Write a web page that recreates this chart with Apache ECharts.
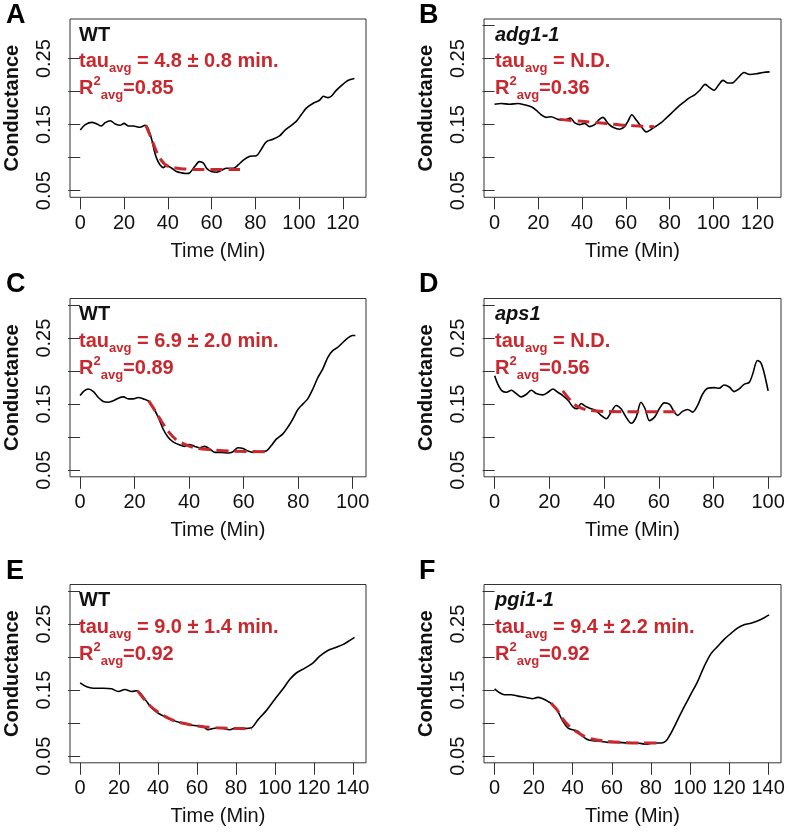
<!DOCTYPE html>
<html>
<head>
<meta charset="utf-8">
<script src="https://cdn.jsdelivr.net/npm/echarts@6/dist/echarts.min.js"></script>
<style>
  html, body { margin: 0; padding: 0; background: #fff; }
  #main { width: 789px; height: 837px; }
</style>
</head>
<body>
<div id="main"></div>
<script>
// panel A - WT
const aTime = [0, 2.3, 5.3, 7.6, 9.6, 11.4, 13.7, 16, 18.2, 20, 22, 24.3, 27.3, 29.6, 31, 32.7, 33.7, 34.9, 36.5, 38, 39.5, 41.8, 44, 46.3, 48.6, 50, 52.4, 54.4, 56.2, 58, 60, 62.3, 64.6, 66.8, 69.9, 72.2, 74.4, 77.5, 80.5, 82.8, 85, 88.1, 91.1, 93.4, 95.7, 98.7, 101, 103.3, 106.3, 109.4, 111.2, 113.2, 114.7, 117, 120, 122.3, 125.3];
const aCond = [0.142, 0.150, 0.1535, 0.151, 0.148, 0.153, 0.156, 0.151, 0.149, 0.152, 0.148, 0.148, 0.146, 0.149, 0.144, 0.127, 0.112, 0.099, 0.089, 0.085, 0.088, 0.084, 0.079, 0.077, 0.076, 0.077, 0.087, 0.094, 0.092, 0.083, 0.079, 0.078, 0.081, 0.084, 0.084, 0.089, 0.096, 0.102, 0.103, 0.113, 0.124, 0.128, 0.133, 0.141, 0.147, 0.155, 0.165, 0.175, 0.182, 0.187, 0.193, 0.191, 0.193, 0.202, 0.211, 0.217, 0.220];
const aFitTime = [30, 32.7, 35, 37.3, 39.5, 42.5, 47, 55, 73];
const aFitCond = [0.149, 0.127, 0.108, 0.095, 0.088, 0.085, 0.083, 0.082, 0.082];

// panel B - adg1-1
const bTime = [0, 3, 6.9, 10.7, 13.7, 16.8, 19, 21.3, 23.6, 25.9, 28.9, 32, 34.7, 36.5, 38.8, 41.1, 43.4, 45.7, 47.5, 49.5, 51.8, 54.1, 57.1, 59.4, 60.9, 62.7, 64.7, 67, 69.3, 71.6, 73.9, 76.1, 78.4, 80.7, 83.8, 86.8, 89.1, 91.4, 93.7, 96.2, 98.2, 100.2, 102.3, 104.3, 106.6, 108.4, 111.2, 113.9, 116.5, 119.5, 122.6, 125.6];
const bCond = [0.181, 0.182, 0.181, 0.182, 0.180, 0.177, 0.172, 0.165, 0.161, 0.162, 0.158, 0.157, 0.160, 0.153, 0.150, 0.152, 0.147, 0.150, 0.157, 0.161, 0.152, 0.146, 0.143, 0.147, 0.155, 0.165, 0.157, 0.147, 0.139, 0.143, 0.148, 0.153, 0.160, 0.167, 0.177, 0.185, 0.191, 0.195, 0.202, 0.211, 0.206, 0.202, 0.210, 0.217, 0.213, 0.213, 0.221, 0.229, 0.226, 0.227, 0.229, 0.230];
const bFitTime = [29.7, 40, 50, 60, 73];
const bFitCond = [0.158, 0.155, 0.152, 0.149, 0.147];

// panel C - WT
const cTime = [0, 1.5, 3, 4.9, 6.7, 8.5, 10.4, 12.2, 14, 15.9, 17.7, 19.5, 21.3, 23.2, 25, 26.8, 28.7, 30.5, 32.3, 34.1, 36.6, 38.4, 40, 42.1, 43.9, 45.7, 47.6, 49.4, 51.8, 54.3, 56.1, 57.9, 59.8, 61.6, 63.4, 65.9, 68.3, 70.1, 72, 74.4, 76.2, 78, 79.9, 81.7, 83.5, 85.4, 87.2, 89, 90.9, 92.7, 94.5, 96.3, 98.2, 100, 101];
const cCond = [0.163, 0.170, 0.173, 0.169, 0.160, 0.154, 0.153, 0.155, 0.159, 0.161, 0.158, 0.158, 0.160, 0.158, 0.155, 0.145, 0.130, 0.112, 0.100, 0.093, 0.088, 0.086, 0.089, 0.086, 0.084, 0.086, 0.082, 0.077, 0.077, 0.076, 0.078, 0.084, 0.083, 0.079, 0.077, 0.078, 0.079, 0.087, 0.097, 0.105, 0.115, 0.127, 0.142, 0.150, 0.158, 0.173, 0.190, 0.203, 0.221, 0.231, 0.236, 0.243, 0.250, 0.254, 0.254];
const cFitTime = [25.2, 27.5, 30, 32.5, 35, 38, 42, 48, 55, 69];
const cFitCond = [0.155, 0.140, 0.123, 0.108, 0.097, 0.090, 0.084, 0.081, 0.079, 0.078];

// panel D - aps1
const dTime = [0, 1.2, 2.7, 4.3, 6.1, 7.9, 9.7, 11.6, 13.4, 15.2, 17.6, 19.5, 21.3, 23.1, 24.9, 26.8, 28.6, 30.2, 31.6, 33.5, 35.3, 37.1, 38.9, 40.8, 42.6, 44.4, 46.2, 48.1, 49.9, 51.7, 53.5, 55, 56.6, 58.4, 60.2, 62, 63.9, 65.7, 66.9, 68.7, 70.6, 72.4, 74.2, 76, 77.9, 80.3, 82.1, 83.9, 85.8, 87.6, 89.4, 91.2, 93.1, 94.3, 96.1, 97.3, 98.5, 100];
const dCond = [0.193, 0.180, 0.170, 0.168, 0.171, 0.166, 0.161, 0.165, 0.171, 0.166, 0.164, 0.168, 0.173, 0.168, 0.163, 0.156, 0.146, 0.143, 0.151, 0.146, 0.143, 0.140, 0.133, 0.128, 0.138, 0.148, 0.143, 0.130, 0.121, 0.130, 0.153, 0.143, 0.125, 0.130, 0.143, 0.152, 0.150, 0.138, 0.133, 0.139, 0.142, 0.138, 0.148, 0.165, 0.174, 0.175, 0.174, 0.179, 0.176, 0.169, 0.173, 0.180, 0.183, 0.195, 0.216, 0.213, 0.198, 0.170];
const dFitTime = [24.9, 27, 29, 31, 34, 40, 50, 68];
const dFitCond = [0.170, 0.159, 0.150, 0.145, 0.141, 0.139, 0.1385, 0.1385];

// panel E - WT
const eTime = [0, 3.4, 6.8, 12, 16.2, 19.6, 23, 26.5, 29, 31.6, 34.1, 36.7, 40.1, 43.5, 47, 51.2, 55.5, 59.8, 63.2, 65.7, 68.3, 71.7, 76.8, 80.2, 84.5, 87.9, 91.3, 95.6, 99.9, 104.2, 107.6, 111, 115.2, 119.5, 122.9, 127.2, 131.5, 134.9, 138.3, 140.9];
const eCond = [0.161, 0.155, 0.153, 0.153, 0.152, 0.148, 0.151, 0.148, 0.149, 0.143, 0.133, 0.123, 0.115, 0.110, 0.105, 0.101, 0.098, 0.096, 0.095, 0.090, 0.092, 0.093, 0.090, 0.093, 0.092, 0.093, 0.105, 0.119, 0.136, 0.152, 0.166, 0.176, 0.183, 0.191, 0.201, 0.210, 0.215, 0.219, 0.225, 0.230];
const eFitTime = [29.5, 33, 36, 40, 45, 50, 56, 62, 70, 80, 88.3];
const eFitCond = [0.149, 0.136, 0.126, 0.117, 0.108, 0.102, 0.098, 0.095, 0.093, 0.092, 0.0915];

// panel F - pgi1-1
const fTime = [0, 2.6, 5.1, 8.5, 11.9, 16.2, 19.6, 22.1, 24.7, 27.3, 29.8, 32.4, 34.9, 37.5, 40, 42.6, 45.1, 48.5, 52.8, 57.9, 63, 68.1, 73.2, 77.5, 80.9, 85.2, 87.7, 90.3, 93.7, 97.1, 100.5, 103.9, 107.3, 110.7, 114.1, 117.5, 121, 124.3, 127.7, 132, 136.3, 140.5];
const fCond = [0.152, 0.146, 0.143, 0.143, 0.141, 0.139, 0.137, 0.139, 0.137, 0.133, 0.128, 0.118, 0.103, 0.093, 0.090, 0.088, 0.080, 0.074, 0.073, 0.071, 0.071, 0.070, 0.070, 0.068, 0.070, 0.070, 0.073, 0.085, 0.105, 0.125, 0.144, 0.163, 0.186, 0.205, 0.216, 0.227, 0.236, 0.244, 0.249, 0.252, 0.257, 0.264];
const fFitTime = [29, 32, 35, 38, 42, 46, 50, 56, 64, 75, 86];
const fFitCond = [0.130, 0.120, 0.106, 0.096, 0.087, 0.080, 0.076, 0.073, 0.071, 0.070, 0.070];

const letters = ['A', 'B', 'C', 'D', 'E', 'F'];
const genotypes = ['WT', 'adg1-1', 'WT', 'aps1', 'WT', 'pgi1-1'];
const tauText = ['4.8 ± 0.8 min.', 'N.D.', '6.9 ± 2.0 min.', 'N.D.', '9.0 ± 1.4 min.', '9.4 ± 2.2 min.'];
const r2Text = ['0.85', '0.36', '0.89', '0.56', '0.92', '0.92'];
const xTicks = [
  [0, 20, 40, 60, 80, 100, 120],
  [0, 20, 40, 60, 80, 100, 120],
  [0, 20, 40, 60, 80, 100],
  [0, 20, 40, 60, 80, 100],
  [0, 20, 40, 60, 80, 100, 120, 140],
  [0, 20, 40, 60, 80, 100, 120, 140]
];
const yTicks = [0.05, 0.10, 0.15, 0.20, 0.25, 0.30];
const yTicksA = [0.05, 0.10, 0.15, 0.20, 0.25];
const yLabels = [0.05, 0.15, 0.25];

const FONT = 'Liberation Sans, Arial, Helvetica, sans-serif';
const RED = '#c8282e';
const zip = (xs, ys) => xs.map((x, i) => [x, ys[i]]);

const panels = [
  { t: aTime, c: aCond, ft: aFitTime, fc: aFitCond, left: 70, top: 19, xr: [-4.7, 130.6] },
  { t: bTime, c: bCond, ft: bFitTime, fc: bFitCond, left: 484, top: 19, xr: [-4.8, 130.8] },
  { t: cTime, c: cCond, ft: cFitTime, fc: cFitCond, left: 70, top: 298.5, xr: [-3.7, 104.9] },
  { t: dTime, c: dCond, ft: dFitTime, fc: dFitCond, left: 484, top: 298.5, xr: [-3.9, 104.7] },
  { t: eTime, c: eCond, ft: eFitTime, fc: eFitCond, left: 70, top: 584.5, xr: [-5.2, 146.8] },
  { t: fTime, c: fCond, ft: fFitTime, fc: fFitCond, left: 484, top: 584.5, xr: [-5.4, 146.6] }
];

const grid = [], xAxis = [], yAxis = [], series = [], title = [];
// subscripts / superscript via rich text tokens
const rich = {
  k: { fontSize: 20, fontWeight: 'bold', color: '#111', lineHeight: 26, fontFamily: FONT },
  ki: { fontSize: 20, fontWeight: 'bold', fontStyle: 'italic', color: '#111', lineHeight: 26, fontFamily: FONT },
  r: { fontSize: 20, fontWeight: 'bold', color: RED, lineHeight: 27, verticalAlign: 'middle', fontFamily: FONT },
  s: { fontSize: 13, fontWeight: 'bold', color: RED, lineHeight: 9, verticalAlign: 'bottom', fontFamily: FONT },
  p: { fontSize: 13, fontWeight: 'bold', color: RED, lineHeight: 19, verticalAlign: 'top', fontFamily: FONT }
};

panels.forEach((p, i) => {
  const w = p.left === 70 ? 296 : 297;
  grid.push({ left: p.left, top: p.top, width: w, height: 178.3, show: true, borderColor: '#333', borderWidth: 1, backgroundColor: 'transparent' });
  xAxis.push({
    type: 'value', gridIndex: i, min: p.xr[0], max: p.xr[1],
    name: 'Time (Min)', nameLocation: 'middle', nameGap: 44,
    nameTextStyle: { fontSize: 20, color: '#111', fontFamily: FONT },
    axisLine: { show: false },
    axisTick: { show: true, length: 12, customValues: xTicks[i], lineStyle: { color: '#333' } },
    axisLabel: { customValues: xTicks[i], fontSize: 20, color: '#111', margin: 16, fontFamily: FONT },
    splitLine: { show: false }
  });
  yAxis.push({
    type: 'value', gridIndex: i, min: 0.04, max: 0.31,
    name: 'Conductance', nameLocation: 'middle', nameGap: 48,
    nameTextStyle: { fontSize: 20, fontWeight: 'bold', color: '#111', fontFamily: FONT },
    axisLine: { show: false },
    axisTick: { show: true, length: 12, customValues: i === 0 ? yTicksA : yTicks, lineStyle: { color: '#333' } },
    axisLabel: { customValues: yLabels, rotate: 90, fontSize: 20, color: '#111', margin: 16, fontFamily: FONT, formatter: v => v.toFixed(2) },
    splitLine: { show: false }
  });
  series.push({
    type: 'line', xAxisIndex: i, yAxisIndex: i, data: zip(p.t, p.c), smooth: 0.3,
    showSymbol: false, lineStyle: { color: '#000', width: 1.6 }, silent: true
  });
  series.push({
    type: 'line', xAxisIndex: i, yAxisIndex: i, data: zip(p.ft, p.fc), smooth: 0.3,
    showSymbol: false, lineStyle: { color: RED, width: 3, type: [12, 6] }, silent: true, z: 3
  });
  const gTok = genotypes[i] === 'WT' ? 'k' : 'ki';
  title.push({
    left: (p.left === 70 ? 79 : 495), top: p.top + 3, padding: 0,
    text: '{' + gTok + '|' + genotypes[i] + '}\n{r|tau}{s|avg}{r| = ' + tauText[i] + '}\n{r|R}{p|2}{s|avg}{r|=' + r2Text[i] + '}',
    textStyle: { rich: rich }
  });
  const ly = i < 2 ? 2 : (i < 4 ? 271 : 558);
  title.push({
    left: p.left === 70 ? 6 : 419, top: ly, padding: 0, text: letters[i],
    textStyle: { fontSize: 27, fontWeight: 'bold', color: '#000', fontFamily: FONT }
  });
});

const myChart = echarts.init(document.getElementById('main'));
myChart.setOption({
  animation: false,
  backgroundColor: '#fff',
  title: title,
  grid: grid,
  xAxis: xAxis,
  yAxis: yAxis,
  series: series
});
</script>
</body>
</html>
